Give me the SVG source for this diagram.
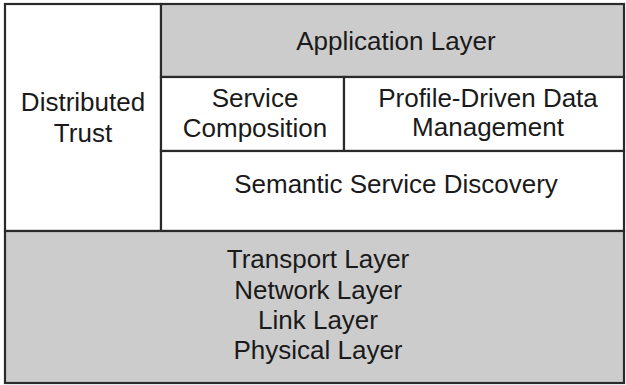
<svg xmlns="http://www.w3.org/2000/svg" width="626" height="385" viewBox="0 0 626 385">
<style>
.box{stroke:#2a2a2a;stroke-width:2.2}
.g{fill:#cccccc}
.w{fill:#ffffff}
text{font-family:"Liberation Sans",Arial,sans-serif;font-size:26px;fill:#1a1a1a;text-anchor:middle}
</style>
<rect x="0" y="0" width="626" height="385" fill="#ffffff"/>
<g id="distributed-trust">
<rect class="box w" x="5" y="4" width="156" height="227"/>
<text x="83" y="111">Distributed</text>
<text x="83" y="142">Trust</text>
</g>
<g id="application-layer">
<rect class="box g" x="161" y="4" width="463" height="73"/>
<text x="396" y="50">Application Layer</text>
</g>
<g id="service-composition">
<rect class="box w" x="161" y="77" width="183" height="74"/>
<text x="255" y="107">Service</text>
<text x="255" y="137">Composition</text>
</g>
<g id="profile-driven">
<rect class="box w" x="344" y="77" width="280" height="74"/>
<text x="488" y="107">Profile-Driven Data</text>
<text x="488" y="136">Management</text>
</g>
<g id="semantic-discovery">
<rect class="box w" x="161" y="151" width="463" height="80"/>
<text x="396" y="193">Semantic Service Discovery</text>
</g>
<g id="lower-layers">
<rect class="box g" x="5" y="231" width="619" height="152"/>
<text x="318" y="268">Transport Layer</text>
<text x="318" y="299">Network Layer</text>
<text x="318" y="329">Link Layer</text>
<text x="318" y="359">Physical Layer</text>
</g>
<g id="connectors"></g>
</svg>
